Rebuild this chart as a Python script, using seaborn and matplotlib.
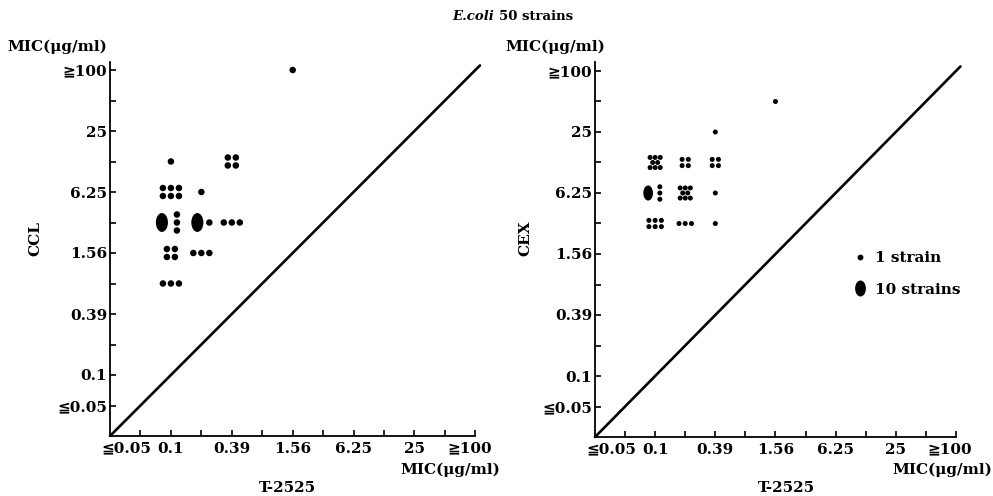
import numpy as np
import pandas as pd
import matplotlib
matplotlib.use("Agg")
import matplotlib.pyplot as plt
import matplotlib.transforms as mtransforms
from matplotlib.path import Path
from matplotlib.lines import Line2D
import seaborn as sns

# ---------------------------
# Data: twofold MIC dilution steps and number of strains per cell
# ---------------------------
mic_steps = [0.05, 0.1, 0.2, 0.39, 0.78, 1.56, 3.13, 6.25, 12.5, 25, 50, 100]
tick_labels = ["≦0.05", "0.1", "", "0.39", "", "1.56", "", "6.25", "", "25", "", "≧100"]

# T-2525 (x) vs CCL (y)
ccl_x = [0.1, 0.1, 0.1, 0.1, 0.1, 0.2, 0.2, 0.2, 0.39, 0.39, 1.56]
ccl_y = [12.5, 6.25, 3.13, 1.56, 0.78, 6.25, 3.13, 1.56, 12.5, 3.13, 100]
ccl_n = [1, 6, 13, 4, 3, 1, 11, 3, 4, 3, 1]

# T-2525 (x) vs CEX (y)
cex_x = [0.1, 0.1, 0.1, 0.2, 0.2, 0.2, 0.39, 0.39, 0.39, 0.39, 1.56]
cex_y = [12.5, 6.25, 3.13, 12.5, 6.25, 3.13, 25, 12.5, 6.25, 3.13, 50]
cex_n = [8, 13, 6, 4, 8, 3, 1, 4, 1, 1, 1]

# ---------------------------
# Style
# ---------------------------
sns.set_style("ticks")
plt.rcParams["font.family"] = ["DejaVu Serif", "DejaVu Sans"]
plt.rcParams["font.size"] = 11
plt.rcParams["font.weight"] = "bold"
plt.rcParams["text.color"] = "black"
plt.rcParams["xtick.color"] = "black"
plt.rcParams["ytick.color"] = "black"

FS = 11
W, H = 993, 496
fig = plt.figure(figsize=(W / 100, H / 100), dpi=100)

# dot arrangement inside one cell, in pixels (y up)
patterns = {
    1: [(0, 0)],
    3: [(-8, 0), (0, 0), (8, 0)],
    4: [(-4, 4), (4, 4), (-4, -4), (4, -4)],
    6: [(-8, 4), (0, 4), (8, 4), (-8, -4), (0, -4), (8, -4)],
    8: [(-6.5, 6.5), (0, 6.5), (6.5, 6.5), (-3.2, 0), (3.2, 0),
        (-6.5, -6.5), (0, -6.5), (6.5, -6.5)],
}
ellipse = Path.unit_circle().transformed(mtransforms.Affine2D().scale(0.64, 1.0))


def expand(xs, ys, ns, spread, ppx, ppy):
    small, big = [], []
    for x, y, n in zip(xs, ys, ns):
        cx = mic_steps.index(x) + 1
        cy = mic_steps.index(y) + 1
        if n >= 10:
            rest = n - 10
            bx = -4 if rest == 1 else -9
            big.append((cx + bx * spread / ppx, cy))
            sx = 8 if rest == 1 else 6
            offs = [(sx, ((rest - 1) / 2 - i) * 8) for i in range(rest)]
        else:
            offs = patterns[n]
        for ox, oy in offs:
            small.append((cx + ox * spread / ppx, cy + oy * spread / ppy))
    return (pd.DataFrame(small, columns=["x", "y"]),
            pd.DataFrame(big, columns=["x", "y"]))


def panel(x0, y0, ppx, ppy, ytop, xs, ys, ns, spread, s_small, s_big):
    n = len(mic_steps)
    ax = fig.add_axes([x0 / W, (H - y0) / H, n * ppx / W, ytop * ppy / H])
    small, big = expand(xs, ys, ns, spread, ppx, ppy)
    sns.scatterplot(data=small, x="x", y="y", ax=ax, s=s_small, color="black",
                    edgecolor="none", linewidth=0, legend=False, clip_on=False)
    sns.scatterplot(data=big, x="x", y="y", ax=ax, s=s_big, marker=ellipse,
                    color="black", edgecolor="none", linewidth=0, legend=False,
                    clip_on=False)
    ax.plot([0, n + 0.15], [0, n + 0.15], color="black", lw=1.9, clip_on=False)

    ax.set_xlim(0, n)
    ax.set_ylim(0, ytop)
    for side in ["top", "right"]:
        ax.spines[side].set_visible(False)
    for side in ["left", "bottom"]:
        ax.spines[side].set_linewidth(1.3)
        ax.spines[side].set_color("black")
    pos = np.arange(1, n + 1)
    ax.set_xticks(pos)
    ax.set_yticks(pos)
    ax.set_xticklabels(tick_labels, fontweight="bold")
    ax.set_yticklabels(tick_labels, fontweight="bold")
    ax.tick_params(axis="both", direction="in", length=4, width=1.2,
                   labelsize=FS, colors="black")
    ax.tick_params(axis="x", pad=4)
    ax.tick_params(axis="y", pad=2)
    # the ≦ / ≧ labels sit a bit left of their ticks
    xl = ax.get_xticklabels()
    xl[0].set_transform(xl[0].get_transform() +
                        mtransforms.ScaledTranslation(-0.14, 0, fig.dpi_scale_trans))
    xl[-1].set_transform(xl[-1].get_transform() +
                         mtransforms.ScaledTranslation(-0.06, 0, fig.dpi_scale_trans))
    ax.set_xlabel("")
    ax.set_ylabel("")
    ax.set_facecolor("white")
    return ax


ax1 = panel(110, 436, 30.45, 30.5, 12.25, ccl_x, ccl_y, ccl_n, 1.0, 22, 185)
ax2 = panel(595, 437, 30.08, 30.5, 12.3, cex_x, cex_y, cex_n, 0.78, 13, 118)


def ftext(x, y, s, **kw):
    kw.setdefault("fontsize", FS)
    kw.setdefault("fontweight", "bold")
    fig.text(x / W, 1 - y / H, s, va="center", **kw)


ftext(494, 16, "E.coli", ha="right", style="italic", fontsize=9.5)
ftext(499, 16, "50 strains", ha="left", fontsize=9.5)

for x_left, x_right, x_t2525, x_ylab, ylab in [(7, 500, 287, 35, "CCL"),
                                                (505, 992, 786, 525, "CEX")]:
    ftext(x_left, 47, "MIC(μg/ml)", ha="left")
    ftext(x_right, 470, "MIC(μg/ml)", ha="right")
    ftext(x_t2525, 488, "T-2525", ha="center")
    ftext(x_ylab, 238, ylab, ha="center", rotation=90)

handles = [
    Line2D([], [], marker="o", ls="", color="black", markersize=3.2),
    Line2D([], [], marker=ellipse, ls="", color="black", markersize=10.5),
]
fig.legend(handles, ["1 strain", "10 strains"], loc="upper left",
           bbox_to_anchor=(852 / W, 1 - 251 / H), bbox_transform=fig.transFigure,
           frameon=False, handlelength=1.0, handletextpad=0.5, labelspacing=1.15,
           borderpad=0, borderaxespad=0, prop={"size": FS, "weight": "bold"})

fig.savefig("out.png", dpi=100, facecolor="white")
